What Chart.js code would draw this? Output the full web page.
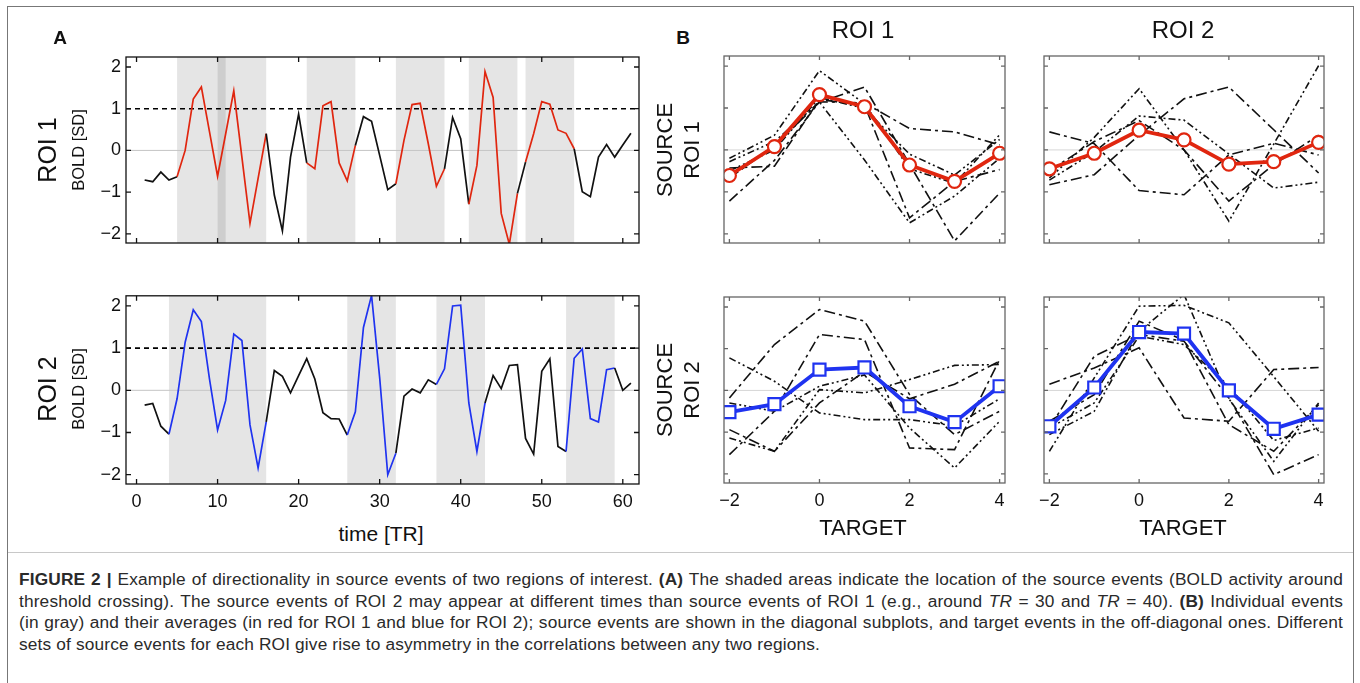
<!DOCTYPE html>
<html>
<head>
<meta charset="utf-8">
<script src="https://cdn.jsdelivr.net/npm/chart.js@4.4.0/dist/chart.umd.min.js"></script>
<style>
body{margin:0;background:#fff;width:1360px;height:683px;overflow:hidden;position:relative;font-family:"Liberation Sans",Arial,sans-serif;color:#111}
.box{position:absolute;left:7px;top:6px;width:1345px;height:720px;border:1.5px solid #777}
.sep{position:absolute;left:8px;top:552px;width:1345px;height:0;border-top:1px solid #c8c8c8}
canvas{position:absolute}
.t{position:absolute;white-space:nowrap;transform:translate(-50%,-50%);line-height:1}
.r{transform:translate(-50%,-50%) rotate(-90deg)}
.cap{position:absolute;left:19px;top:569px;width:1324px;font-size:17.3px;letter-spacing:0.15px;line-height:21.7px;color:#2a2a2a}
.cap div{white-space:nowrap}
</style>
</head>
<body>
<div class="box"></div>
<div class="sep"></div>

<canvas id="a1" width="640" height="230" style="left:20px;top:40px"></canvas>
<canvas id="a2" width="640" height="240" style="left:20px;top:280px"></canvas>
<canvas id="b11" width="330" height="230" style="left:700px;top:40px"></canvas>
<canvas id="b12" width="330" height="230" style="left:1030px;top:40px"></canvas>
<canvas id="b21" width="330" height="240" style="left:700px;top:280px"></canvas>
<canvas id="b22" width="330" height="240" style="left:1030px;top:280px"></canvas>

<div class="t" style="left:60px;top:37px;font-size:19px;font-weight:bold">A</div>
<div class="t" style="left:683px;top:37px;font-size:19px;font-weight:bold">B</div>

<div class="t r" style="left:47px;top:150px;font-size:25px">ROI 1</div>
<div class="t r" style="left:78px;top:150px;font-size:16.5px">BOLD [SD]</div>
<div class="t r" style="left:47px;top:389px;font-size:25px">ROI 2</div>
<div class="t r" style="left:78px;top:389px;font-size:16.5px">BOLD [SD]</div>
<div class="t" style="left:381px;top:533px;font-size:21px">time [TR]</div>

<div class="t" style="left:863px;top:30px;font-size:24px">ROI 1</div>
<div class="t" style="left:1183px;top:30px;font-size:24px">ROI 2</div>
<div class="t r" style="left:665px;top:150px;font-size:22px">SOURCE</div>
<div class="t r" style="left:692px;top:150px;font-size:22px">ROI 1</div>
<div class="t r" style="left:665px;top:390px;font-size:22px">SOURCE</div>
<div class="t r" style="left:692px;top:390px;font-size:22px">ROI 2</div>
<div class="t" style="left:863px;top:528px;font-size:22px">TARGET</div>
<div class="t" style="left:1183px;top:528px;font-size:22px">TARGET</div>

<div class="cap">
<div class="j"><span><b>FIGURE 2 |</b> Example of directionality in source events of two regions of interest. <b>(A)</b> The shaded areas indicate the location of the source events (BOLD activity around</span></div>
<div class="j"><span>threshold crossing). The source events of ROI 2 may appear at different times than source events of ROI 1 (e.g., around <i>TR</i> = 30 and <i>TR</i> = 40). <b>(B)</b> Individual events</span></div>
<div class="j"><span>(in gray) and their averages (in red for ROI 1 and blue for ROI 2); source events are shown in the diagonal subplots, and target events in the off-diagonal ones. Different</span></div>
<div><span>sets of source events for each ROI give rise to asymmetry in the correlations between any two regions.</span></div>
</div>

<script>
// BOLD time series (SD units), TR = 1..61
var roi1 = [-0.71, -0.75, -0.52, -0.71, -0.63, 0.0, 1.23, 1.52, 0.45, -0.62,
    0.4, 1.43, -0.16, -1.75, -0.67, 0.40, -1.07, -1.93, -0.16, 0.87,
    -0.30, -0.44, 1.07, 1.17, -0.30, -0.73, 0.12, 0.81, 0.70, -0.12,
    -0.94, -0.80, 0.24, 1.10, 1.13, 0.16, -0.86, -0.44, 0.79, 0.28,
    -1.29, -0.36, 1.89, 1.27, -1.51, -2.25, -1.03, -0.28, 0.40, 1.17,
    1.11, 0.49, 0.41, 0.04, -0.99, -1.11, -0.16, 0.14, -0.16, 0.13, 0.41];
var roi2 = [-0.35, -0.31, -0.85, -1.04, -0.20, 1.14, 1.91, 1.63, 0.27, -0.94,
    -0.24, 1.33, 1.18, -0.82, -1.84, -0.75, 0.47, 0.33, -0.06, 0.35,
    0.75, 0.27, -0.53, -0.67, -0.68, -1.06, -0.51, 1.49, 2.25, 0.3,
    -2.0, -1.49, -0.14, 0.03, -0.06, 0.25, 0.14, 0.51, 2.0, 2.02,
    -0.30, -1.45, -0.30, 0.35, 0.04, 0.59, 0.61, -1.14, -1.51, 0.45,
    0.75, -1.33, -1.45, 0.76, 0.98, -0.67, -0.75, 0.49, 0.53, 0.0, 0.17];
// source events [start TR, end TR]
var events1 = [[5, 11], [10, 16], [21, 27], [32, 38], [41, 47], [48, 54]];
var events2 = [[4, 16], [26, 32], [37, 43], [53, 59]];
var threshold = 1;

var timeTicks = [0, 10, 20, 30, 40, 50, 60];
var boldTicks = [-2, -1, 0, 1, 2];
var lagTicks = [-2, 0, 2, 4];
var lags = [-2, -1, 0, 1, 2, 3, 4];

// panel B: averages and individual events
var avg11 = [-0.61, 0.08, 1.32, 1.03, -0.36, -0.75, -0.08];
var ev11 = [
    [-1.22, -0.25, 1.15, 1.12, 0.51, 0.43, 0.12],
    [-0.2, 0.35, 1.89, 1.1, -0.45, -0.8, 0.36],
    [-0.43, -0.39, 1.2, 1.07, -1.62, -0.75, -0.47],
    [-0.28, 0.2, 1.14, -0.24, -1.74, -1.1, -0.2],
    [-0.67, 0.1, 1.14, 1.5, -0.34, -2.17, -1.03],
    [-0.5, 0.0, 1.25, 0.99, -0.1, -0.6, 0.25]
];
var avg12 = [-0.45, -0.08, 0.47, 0.24, -0.34, -0.28, 0.18];
var ev12 = [
    [0.43, 0.15, -0.97, -1.07, -0.12, 0.16, -0.12],
    [-0.67, 0.3, 1.46, 0.0, -1.7, 0.14, 2.01],
    [-0.83, -0.59, 0.35, 1.22, 1.5, 0.48, -0.55],
    [-0.72, -0.05, 0.81, 0.71, -0.1, -0.91, -0.77],
    [-0.5, 0.2, 0.7, 0.0, -1.22, -0.35, 0.35]
];
var avg21 = [-0.52, -0.33, 0.50, 0.55, -0.38, -0.76, 0.10];
var ev21 = [
    [-0.18, 1.1, 1.94, 1.66, -0.1, -1.06, -0.5],
    [0.78, 0.22, -0.54, -0.7, -0.7, -0.85, -0.2],
    [-1.54, -0.5, 1.34, 1.22, -1.38, -1.42, 0.74],
    [-1.14, -1.46, 0.02, -0.06, 0.26, 0.6, 0.62],
    [-0.94, -1.46, -0.3, 0.45, -0.2, 0.15, 0.7],
    [-0.3, -0.5, 0.1, 0.37, -0.9, -1.86, -0.74]
];
var avg22 = [-0.86, 0.07, 1.4, 1.36, 0.0, -0.92, -0.58];
var ev22 = [
    [0.15, 0.54, 1.02, -0.66, -0.74, 0.5, 0.55],
    [-1.46, 0.3, 2.02, 2.04, 1.62, 0.33, -0.98],
    [-0.9, 0.82, 1.34, 1.18, -0.18, -2.02, -1.54],
    [-1.06, -0.5, 1.42, 2.3, -0.2, -1.7, -0.3],
    [-0.74, -0.1, 1.66, 1.2, -0.82, -1.46, -0.34],
    [-0.9, -0.3, 1.3, 1.1, 0.1, -1.2, -0.9]
];

var family = '"Liberation Sans", Arial, sans-serif';
var red = '#e0260f', blue = '#1f33f0', black = '#111';
var yRange = [-2.22, 2.24];

// justify caption lines to the full text width
document.querySelectorAll('.cap .j').forEach(function(div) {
    var span = div.firstElementChild;
    var w = span.getBoundingClientRect().width;
    var gaps = span.textContent.trim().split(/\s+/).length - 1;
    div.style.wordSpacing = ((1324 - w) / gaps) + 'px';
});

function minus(v) { return String(v).replace('-', '\u2212'); }
function pts(xs, ys) { return ys.map(function(v, i) { return {x: xs[i], y: v}; }); }
function inEvent(a, b, evs) { return evs.some(function(e) { return a >= e[0] && b <= e[1]; }); }

var framePlugin = {
    id: 'frame',
    beforeDatasetsDraw: function(chart, args, o) {
        var ctx = chart.ctx, a = chart.chartArea, x = chart.scales.x, y = chart.scales.y;
        ctx.save();
        (o.events || []).forEach(function(e) {
            var x0 = x.getPixelForValue(e[0]), x1 = x.getPixelForValue(e[1]);
            ctx.fillStyle = 'rgba(0,0,0,0.1)';
            ctx.fillRect(x0, a.top, x1 - x0, a.bottom - a.top);
        });
        var y0 = y.getPixelForValue(0);
        ctx.strokeStyle = o.zero; ctx.lineWidth = 1;
        ctx.beginPath(); ctx.moveTo(a.left, y0); ctx.lineTo(a.right, y0); ctx.stroke();
        if (o.threshold != null) {
            var yt = y.getPixelForValue(o.threshold);
            ctx.strokeStyle = '#000'; ctx.lineWidth = 1.6; ctx.setLineDash([5, 4]);
            ctx.beginPath(); ctx.moveTo(a.left, yt); ctx.lineTo(a.right, yt); ctx.stroke();
        }
        ctx.restore();
    },
    afterDraw: function(chart, args, o) {
        var ctx = chart.ctx, a = chart.chartArea, x = chart.scales.x, y = chart.scales.y;
        var L = o.tick;
        ctx.save();
        ctx.strokeStyle = o.color; ctx.lineWidth = o.lw;
        ctx.strokeRect(a.left, a.top, a.right - a.left, a.bottom - a.top);
        ctx.beginPath();
        x.ticks.forEach(function(t) {
            var p = x.getPixelForValue(t.value);
            ctx.moveTo(p, a.bottom); ctx.lineTo(p, a.bottom - L);
            ctx.moveTo(p, a.top); ctx.lineTo(p, a.top + L);
        });
        y.ticks.forEach(function(t) {
            var p = y.getPixelForValue(t.value);
            ctx.moveTo(a.left, p); ctx.lineTo(a.left + L, p);
            ctx.moveTo(a.right, p); ctx.lineTo(a.right - L, p);
        });
        ctx.stroke();
        ctx.restore();
    }
};

function makeChart(id, s) {
    return new Chart(document.getElementById(id), {
        type: 'line',
        data: {datasets: s.datasets},
        options: {
            responsive: false,
            animation: false,
            events: [],
            layout: {padding: s.pad},
            plugins: {legend: {display: false}, tooltip: {enabled: false}, frame: s.frame},
            scales: {
                x: {
                    type: 'linear', min: s.xr[0], max: s.xr[1],
                    grid: {display: false, drawTicks: false}, border: {display: false},
                    ticks: {display: s.xLabels, font: {family: family, size: 18}, color: '#111',
                        padding: 7, maxRotation: 0, autoSkip: false, callback: minus},
                    afterBuildTicks: function(sc) { sc.ticks = s.xt.map(function(v) { return {value: v}; }); },
                    afterFit: function(sc) { sc.height = s.xh; }
                },
                y: {
                    type: 'linear', min: yRange[0], max: yRange[1],
                    grid: {display: false, drawTicks: false}, border: {display: false},
                    ticks: {display: s.yLabels, font: {family: family, size: 18}, color: '#111',
                        padding: 5, callback: minus},
                    afterBuildTicks: function(sc) { sc.ticks = boldTicks.map(function(v) { return {value: v}; }); },
                    afterFit: function(sc) { sc.width = s.yw; }
                }
            }
        },
        plugins: [framePlugin]
    });
}

var tr = roi1.map(function(_, i) { return i + 1; });

function seriesSet(vals, evs, col) {
    return [{
        data: pts(tr, vals), borderColor: black, borderWidth: 1.7, pointRadius: 0, tension: 0,
        segment: {borderColor: function(c) { return inEvent(c.p0.parsed.x, c.p1.parsed.x, evs) ? col : black; }}
    }];
}

makeChart('a1', {
    datasets: seriesSet(roi1, events1, red),
    pad: {top: 17, right: 21, left: 0, bottom: 0},
    xr: [-1.3, 62], xt: timeTicks, xLabels: false, yLabels: true, xh: 27, yw: 106,
    frame: {events: events1, threshold: threshold, zero: '#c4c4c4', color: '#111', lw: 1.3, tick: 5}
});
makeChart('a2', {
    datasets: seriesSet(roi2, events2, blue),
    pad: {top: 15, right: 21, left: 0, bottom: 0},
    xr: [-1.3, 62], xt: timeTicks, xLabels: true, yLabels: true, xh: 36, yw: 106,
    frame: {events: events2, threshold: threshold, zero: '#c4c4c4', color: '#111', lw: 1.3, tick: 5}
});

function lagSet(avg, evs, col, style) {
    var ds = [{
        data: pts(lags, avg), borderColor: col, borderWidth: 3.8, tension: 0, order: 0,
        pointStyle: style, pointRadius: style === 'rect' ? 8.5 : 6.5, pointBorderWidth: 2.2,
        pointBackgroundColor: '#fff', pointBorderColor: col
    }];
    evs.forEach(function(e, i) {
        ds.push({
            data: pts(lags, e), borderColor: black, borderWidth: 1.6, pointRadius: 0, tension: 0, order: 1,
            borderDash: i % 2 ? [7, 3, 2, 3, 2, 3] : [11, 4, 3, 4]
        });
    });
    return ds;
}

var bFrame = {zero: '#d6d6d6', color: '#666', lw: 1.3, tick: 4};
var lagRange = [-2.12, 4.12];
makeChart('b11', {
    datasets: lagSet(avg11, ev11, red, 'circle'),
    pad: {top: 16, right: 25, left: 0, bottom: 0},
    xr: lagRange, xt: lagTicks, xLabels: false, yLabels: false, xh: 27, yw: 24, frame: bFrame
});
makeChart('b12', {
    datasets: lagSet(avg12, ev12, red, 'circle'),
    pad: {top: 16, right: 36, left: 0, bottom: 0},
    xr: lagRange, xt: lagTicks, xLabels: false, yLabels: false, xh: 27, yw: 14, frame: bFrame
});
makeChart('b21', {
    datasets: lagSet(avg21, ev21, blue, 'rect'),
    pad: {top: 17, right: 25, left: 0, bottom: 0},
    xr: lagRange, xt: lagTicks, xLabels: true, yLabels: false, xh: 37, yw: 24, frame: bFrame
});
makeChart('b22', {
    datasets: lagSet(avg22, ev22, blue, 'rect'),
    pad: {top: 17, right: 36, left: 0, bottom: 0},
    xr: lagRange, xt: lagTicks, xLabels: true, yLabels: false, xh: 37, yw: 14, frame: bFrame
});
</script>
</body>
</html>
